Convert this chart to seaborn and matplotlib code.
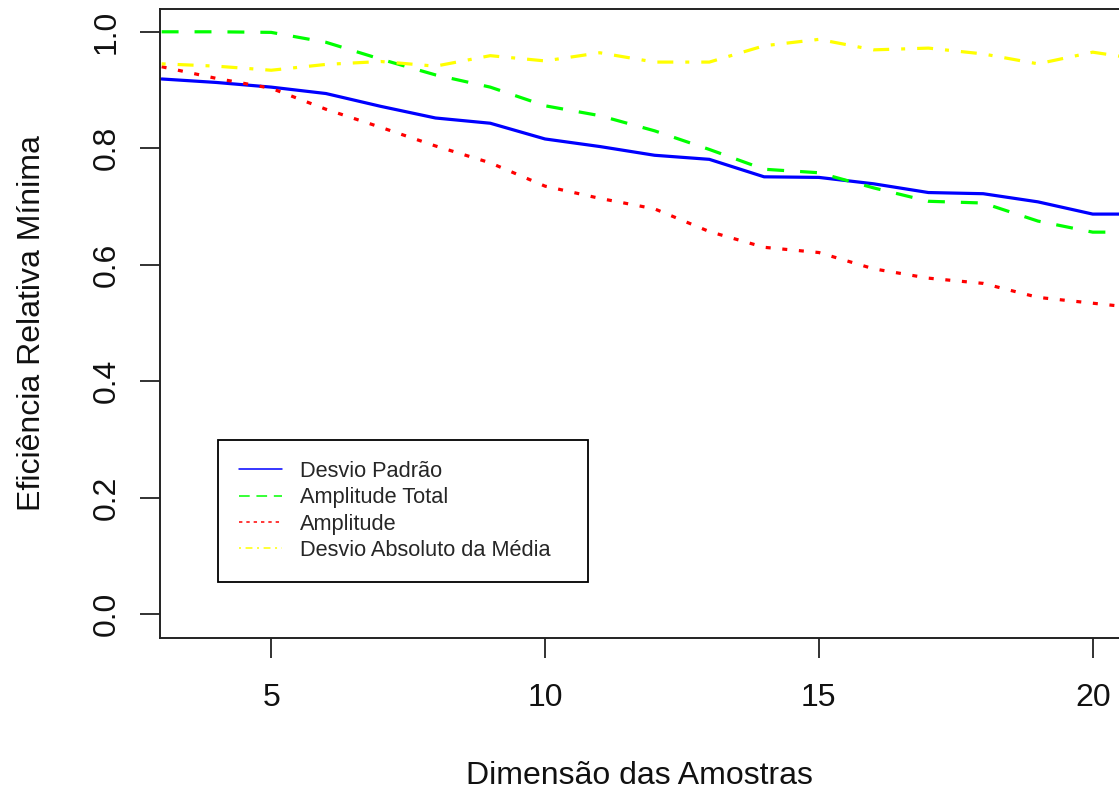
import seaborn as sns
import pandas as pd
import numpy as np
import matplotlib.pyplot as plt
from matplotlib.lines import Line2D

# dimensao das amostras
n = [3, 4, 5, 6, 7, 8, 9, 10, 11, 12, 13, 14, 15, 16, 17, 18, 19, 20, 21]

desvio_padrao = [0.919, 0.913, 0.905, 0.894, 0.872, 0.852, 0.843, 0.816, 0.803, 0.788,
                 0.781, 0.751, 0.750, 0.739, 0.724, 0.722, 0.708, 0.687, 0.687]
amplitude_total = [1.000, 1.000, 0.999, 0.982, 0.953, 0.926, 0.905, 0.873, 0.856, 0.830,
                   0.798, 0.764, 0.758, 0.732, 0.709, 0.706, 0.675, 0.656, 0.656]
amplitude = [0.940, 0.920, 0.903, 0.867, 0.836, 0.804, 0.775, 0.735, 0.714, 0.696,
             0.657, 0.630, 0.621, 0.593, 0.577, 0.568, 0.544, 0.534, 0.524]
desvio_absoluto = [0.945, 0.941, 0.934, 0.944, 0.949, 0.941, 0.959, 0.950, 0.964, 0.948,
                   0.948, 0.976, 0.987, 0.969, 0.972, 0.962, 0.945, 0.965, 0.951]

medidas = ['Desvio Padrão', 'Amplitude Total', 'Amplitude', 'Desvio Absoluto da Média']
series = [desvio_padrao, amplitude_total, amplitude, desvio_absoluto]
cores = ['#0000ff', '#00ff00', '#ff0000', '#ffff00']

yticks = [0.0, 0.2, 0.4, 0.6, 0.8, 1.0]
xticks = [5, 10, 15, 20]

sns.set_style('ticks')
plt.rcParams['font.family'] = ['Liberation Sans', 'DejaVu Sans']

frames = []
for m, s in zip(medidas, series):
    frames.append(pd.DataFrame({'n': n, 'eff': s, 'medida': m}))
df = pd.concat(frames, ignore_index=True)

# padroes de traco (em unidades de espessura da linha), estilo R
tracos = {
    'Desvio Padrão': '',
    'Amplitude Total': (5.3, 5.0),
    'Amplitude': (1.56, 3.65),
    'Desvio Absoluto da Média': (1.25, 3.75, 5.0, 3.75),
}

fig = plt.figure(figsize=(11.19, 7.92), dpi=100)
ax = fig.add_axes([160 / 1119, 1 - 637.5 / 792, 1 - 160 / 1119, 629 / 792])

sns.lineplot(data=df, x='n', y='eff', hue='medida', style='medida',
             palette=dict(zip(medidas, cores)), dashes=tracos, linewidth=2.3,
             legend=False, ax=ax)

ax.set_xlim(2.97, 20.48)
ax.set_ylim(-0.04, 1.04)
ax.set_xticks(xticks)
ax.set_xticklabels([str(t) for t in xticks])
ax.set_yticks(yticks)
ax.set_yticklabels(['{:.1f}'.format(t) for t in yticks], rotation=90, va='center')

for sp in ['left', 'bottom', 'top']:
    ax.spines[sp].set_linewidth(1.4)
    ax.spines[sp].set_color('#222222')
ax.spines['right'].set_visible(False)

ax.tick_params(axis='both', length=14.4, width=1.3, color='#222222',
               labelsize=23, labelcolor='#111111')
ax.tick_params(axis='x', pad=18.5)
ax.tick_params(axis='y', pad=13.5)

ax.set_xlabel('Dimensão das Amostras', fontsize=23, labelpad=34.5, color='#111111')
ax.set_ylabel('Eficiência Relativa Mínima', fontsize=23, labelpad=32, color='#111111')

leg_tracos = [None, (7.0, 4.4), (2.2, 2.6), (1.3, 3.0, 4.5, 3.0)]
handles = []
for m, c, d in zip(medidas, cores, leg_tracos):
    h = Line2D([0], [0], color=c, lw=1.1, label=m)
    if d is not None:
        h.set_dashes(d)
    handles.append(h)

leg = ax.legend(handles=handles, loc='upper left',
                bbox_to_anchor=(0.0605, 0.0, 0.3858, 0.314), mode='expand',
                borderaxespad=0, fontsize=15.7, frameon=True, fancybox=False,
                handlelength=2.0, handletextpad=0.8, labelspacing=0.25,
                borderpad=0.95)
leg.get_frame().set_edgecolor('black')
leg.get_frame().set_linewidth(1.3)
leg.get_frame().set_alpha(1)

plt.savefig('out.png', dpi=100)
